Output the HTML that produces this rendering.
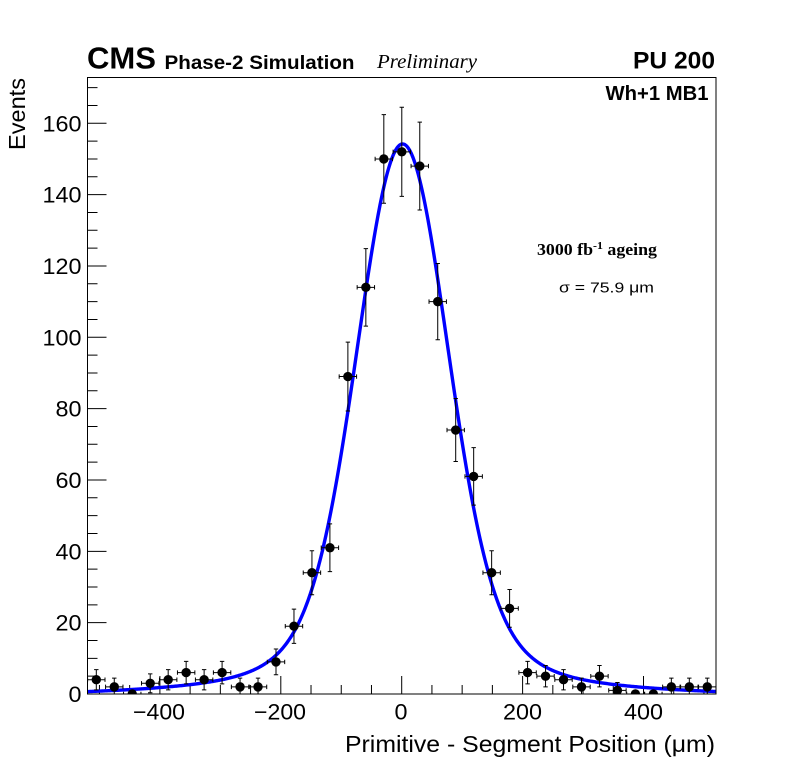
<!DOCTYPE html>
<html>
<head>
<meta charset="utf-8">
<style>
  html,body{margin:0;padding:0;background:#fff;}
  svg{display:block;}
  text{font-family:"Liberation Sans", Arial, sans-serif;fill:#000;}
  .serif{font-family:"Liberation Serif", "Times New Roman", serif;}
</style>
</head>
<body>
<svg id="s" xmlns="http://www.w3.org/2000/svg" width="796" height="772" viewBox="0 0 796 772">
  <defs>
    <clipPath id="pc"><rect x="87.5" y="77.5" width="628.5" height="616.5"/></clipPath>
  </defs>
  <rect x="0" y="0" width="796" height="772" fill="#fff"/>

  <!-- header texts -->
  <text x="87" y="68.5" font-weight="bold" font-size="31" textLength="69" lengthAdjust="spacingAndGlyphs">CMS</text>
  <text x="164.5" y="69" font-weight="bold" font-size="19.5" textLength="190" lengthAdjust="spacingAndGlyphs">Phase-2 Simulation</text>
  <text class="serif" x="377" y="68" font-style="italic" font-size="20" textLength="100" lengthAdjust="spacingAndGlyphs">Preliminary</text>
  <text x="715" y="68.5" text-anchor="end" font-weight="bold" font-size="24.5" textLength="82" lengthAdjust="spacingAndGlyphs">PU 200</text>
  <text x="708.5" y="100" text-anchor="end" font-weight="bold" font-size="20" textLength="103" lengthAdjust="spacingAndGlyphs">Wh+1 MB1</text>

  <!-- annotations -->
  <text class="serif" x="537" y="255" font-weight="bold" font-size="16.5" textLength="120" lengthAdjust="spacingAndGlyphs">3000 fb<tspan font-size="11" dy="-6">-1</tspan><tspan dy="6"> ageing</tspan></text>
  <text x="559" y="292.5" font-size="14.5" textLength="95" lengthAdjust="spacingAndGlyphs">σ = 75.9 μm</text>

  <!-- axis titles -->
  <text x="715" y="752" text-anchor="end" font-size="23" textLength="370" lengthAdjust="spacingAndGlyphs">Primitive - Segment Position (μm)</text>
  <text transform="translate(25,78) rotate(-90)" text-anchor="end" font-size="23" textLength="72" lengthAdjust="spacingAndGlyphs">Events</text>

  <!-- y tick labels -->
  <g font-size="22" text-anchor="end">
    <text x="81.5" y="702" textLength="13" lengthAdjust="spacingAndGlyphs">0</text>
    <text x="81.5" y="630.7" textLength="26" lengthAdjust="spacingAndGlyphs">20</text>
    <text x="81.5" y="559.3" textLength="26" lengthAdjust="spacingAndGlyphs">40</text>
    <text x="81.5" y="488" textLength="26" lengthAdjust="spacingAndGlyphs">60</text>
    <text x="81.5" y="416.6" textLength="26" lengthAdjust="spacingAndGlyphs">80</text>
    <text x="81.5" y="345.3" textLength="39" lengthAdjust="spacingAndGlyphs">100</text>
    <text x="81.5" y="274" textLength="39" lengthAdjust="spacingAndGlyphs">120</text>
    <text x="81.5" y="202.6" textLength="39" lengthAdjust="spacingAndGlyphs">140</text>
    <text x="81.5" y="131.3" textLength="39" lengthAdjust="spacingAndGlyphs">160</text>
  </g>

  <!-- x tick labels -->
  <g font-size="22" text-anchor="middle">
    <text x="159" y="719.5" textLength="52" lengthAdjust="spacingAndGlyphs">−400</text>
    <text x="280" y="719.5" textLength="52" lengthAdjust="spacingAndGlyphs">−200</text>
    <text x="401" y="719.5" textLength="13" lengthAdjust="spacingAndGlyphs">0</text>
    <text x="522.5" y="719.5" textLength="39" lengthAdjust="spacingAndGlyphs">200</text>
    <text x="643.5" y="719.5" textLength="39" lengthAdjust="spacingAndGlyphs">400</text>
  </g>

  <g id="ticks" stroke="#000" stroke-width="1" fill="none"></g>
  <g id="fit" clip-path="url(#pc)"></g>
  <g id="data" clip-path="url(#pc)"></g>

  <!-- frame -->
  <path d="M87.5 77.5 H716 V694 H87.5 Z" fill="none" stroke="#000" stroke-width="1"/>
</svg>
<script>
(function(){
  var NS="http://www.w3.org/2000/svg";
  var X0=401.7, SX=0.6045, Y0=694, SY=3.567;
  function X(u){return X0+u*SX;}
  function Y(v){return Y0-v*SY;}
  function el(tag,attrs,parent){var e=document.createElementNS(NS,tag);for(var k in attrs)e.setAttribute(k,attrs[k]);parent.appendChild(e);return e;}

  // ticks
  var tg=document.getElementById("ticks");
  var d="";
  for(var v=0; v<=170; v+=5){
    var y=Y(v); var len=(v%20===0)?19:10;
    d+="M87.5 "+y.toFixed(2)+" H"+(87.5+len)+" ";
  }
  for(var u=-500; u<=500; u+=50){
    var x=X(u); var len2=(u%200===0)?18:9;
    d+="M"+x.toFixed(2)+" 694 V"+(694-len2)+" ";
  }
  el("path",{d:d},tg);

  // fit curve
  var m=1.5;
  function f(u){
    var z=u-m;
    return 120*Math.exp(-z*z/(2*71*71)) + 27*Math.exp(-z*z/(2*110*110)) + 7.2*Math.exp(-z*z/(2*240*240));
  }
  var pts=[];
  for(var px=86; px<=717; px+=1){
    var uu=(px-X0)/SX;
    pts.push(px+","+Y(f(uu)).toFixed(2));
  }
  el("polyline",{points:pts.join(" "),fill:"none",stroke:"#0000ff","stroke-width":"3.4","stroke-linejoin":"round"},document.getElementById("fit"));

  // data
  var N=[4,2,0,3,4,6,4,6,2,2,9,19,34,41,89,114,150,152,148,110,74,61,34,24,6,5,4,2,5,1,0,0,2,2,2];
  var dg=document.getElementById("data");
  var bars="";
  for(var k=0;k<N.length;k++){
    var cx=96.3+17.97*k, n=N[k], cy=Y(n);
    var hw=8.7;
    bars+="M"+(cx-hw).toFixed(2)+" "+cy.toFixed(2)+" H"+(cx+hw).toFixed(2)+" ";
    bars+="M"+(cx-hw).toFixed(2)+" "+(cy-2.2).toFixed(2)+" V"+(cy+2.2).toFixed(2)+" ";
    bars+="M"+(cx+hw).toFixed(2)+" "+(cy-2.2).toFixed(2)+" V"+(cy+2.2).toFixed(2)+" ";
    if(n>0){
      var e=Math.sqrt(n+4);
      var yt=Y(n+e), yb=Y(n-e);
      bars+="M"+cx.toFixed(2)+" "+yt.toFixed(2)+" V"+yb.toFixed(2)+" ";
      bars+="M"+(cx-2.2).toFixed(2)+" "+yt.toFixed(2)+" H"+(cx+2.2).toFixed(2)+" ";
      bars+="M"+(cx-2.2).toFixed(2)+" "+yb.toFixed(2)+" H"+(cx+2.2).toFixed(2)+" ";
    }
  }
  el("path",{d:bars,fill:"none",stroke:"#000","stroke-width":"1"},dg);
  for(var k2=0;k2<N.length;k2++){
    el("circle",{cx:(96.3+17.97*k2).toFixed(2),cy:Y(N[k2]).toFixed(2),r:"4.7",fill:"#000"},dg);
  }
})();
</script>
</body>
</html>
